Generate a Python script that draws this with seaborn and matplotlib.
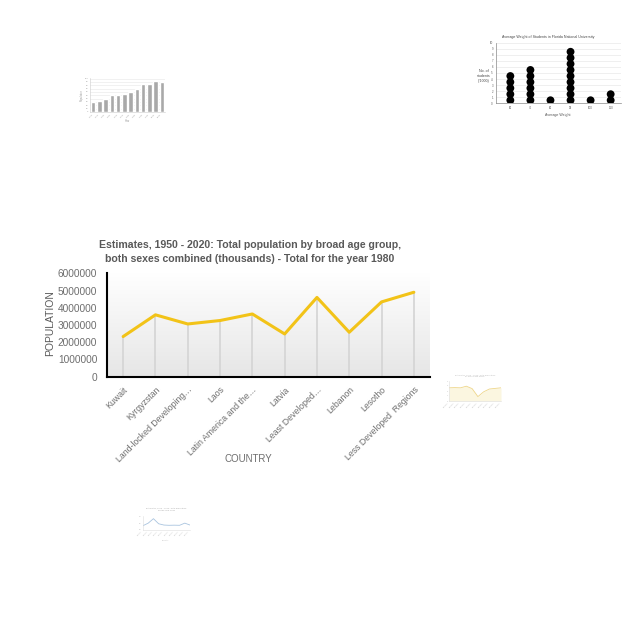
import numpy as np
import pandas as pd
import matplotlib
matplotlib.use("Agg")
import matplotlib.pyplot as plt
import seaborn as sns

# ---- main chart data ----
countries = ["Kuwait", "Kyrgyzstan", "Land-locked Developing…", "Laos",
             "Latin America and the…", "Latvia", "Least Developed…",
             "Lebanon", "Lesotho", "Less Developed  Regions"]
population = [2330000, 3590000, 3060000, 3260000, 3640000, 2480000,
              4600000, 2580000, 4340000, 4900000]
y_ticks = [0, 1000000, 2000000, 3000000, 4000000, 5000000, 6000000]

# ---- thumbnail data ----
bar_vals = [30, 34, 40, 50, 52, 55, 59, 70, 83, 84, 92, 90]
bar_labels = [f"{1950 + 5 * i}" for i in range(12)]
dot_cats = ["60", "70", "80", "90", "100", "110"]
dot_counts = [5, 6, 1, 9, 1, 2]
yellow_vals = [0.66, 0.67, 0.66, 0.74, 0.62, 0.22, 0.46, 0.6, 0.63, 0.66]
blue_vals = [0.3, 0.5, 0.85, 0.45, 0.35, 0.33, 0.34, 0.33, 0.5, 0.35]

sns.set_theme(style="white")
plt.rcParams["font.family"] = ["Liberation Sans", "DejaVu Sans"]

W = H = 640
fig = plt.figure(figsize=(6.4, 6.4), dpi=100)
fig.patch.set_facecolor("white")

def px_axes(x0, y0, x1, y1):
    return fig.add_axes([x0 / W, 1 - y1 / H, (x1 - x0) / W, (y1 - y0) / H])

grey = "#595959"
tick_grey = "#6e6e6e"

# ================= main chart =================
ax = px_axes(107, 273.3, 430, 376.7)
df = pd.DataFrame({"country": countries, "population": population})
xs = np.arange(len(countries))
grad = np.linspace(1, 0, 256).reshape(-1, 1)
ax.imshow(grad, extent=[-0.5, len(countries) - 0.5, 0, 6000000], aspect="auto",
          cmap=matplotlib.colors.LinearSegmentedColormap.from_list("g", ["#ffffff", "#e6e6e6"]),
          vmin=0, vmax=1, zorder=0, origin="lower")
ax.vlines(xs, 0, df["population"], color="#d6d6d6", lw=1.3, zorder=1)
sns.lineplot(data=df, x="country", y="population", ax=ax, color="#f2c318",
             lw=2.2, sort=False, zorder=3)
ax.set_xlim(-0.5, len(countries) - 0.5)
ax.set_ylim(0, 6000000)
ax.set_yticks(y_ticks)
ax.set_yticklabels([str(v) for v in y_ticks], color=tick_grey, fontsize=7.3)
ax.set_xticks(xs)
ax.set_xticklabels(countries, rotation=45, ha="right", rotation_mode="anchor",
                   color=tick_grey, fontsize=6.3)
ax.tick_params(axis="y", length=0, pad=7)
ax.tick_params(axis="x", length=0, pad=6)
for s in ["top", "right"]:
    ax.spines[s].set_visible(False)
for s in ["left", "bottom"]:
    ax.spines[s].set_color("black")
    ax.spines[s].set_linewidth(1.5)
ax.set_xlabel("")
ax.set_ylabel("")
ax.grid(False)
fig.text(248 / W, 1 - 459 / H, "COUNTRY", ha="center", va="center", color=tick_grey, fontsize=7)
fig.text(50 / W, 1 - 323 / H, "POPULATION", ha="center", va="center", rotation=90,
         color=grey, fontsize=7.5)
fig.text(250 / W, 1 - 245.5 / H,
         "Estimates, 1950 - 2020: Total population by broad age group,",
         ha="center", va="center", color=grey, fontsize=7.6, fontweight="bold")
fig.text(250 / W, 1 - 259 / H,
         "both sexes combined (thousands) - Total for the year 1980",
         ha="center", va="center", color=grey, fontsize=7.6, fontweight="bold")

# ================= thumbnail: bar chart =================
axb = px_axes(90, 78, 165, 112)
bdf = pd.DataFrame({"year": bar_labels, "val": bar_vals})
sns.barplot(data=bdf, x="year", y="val", ax=axb, color="#a9a9a9", width=0.7, zorder=2)
axb.set_ylim(0, 102)
axb.set_yticks(np.arange(0, 101, 10))
axb.yaxis.grid(True, color="#e6e6e6", lw=0.4)
axb.tick_params(length=0, labelsize=1.6, colors="#999999", pad=1)
axb.set_xticks(range(len(bar_labels)))
axb.set_xticklabels(bar_labels, rotation=45, ha="right")
axb.set_xlabel("Year", fontsize=1.8, color="#999999", labelpad=1)
axb.set_ylabel("Population", fontsize=1.8, color="#999999", labelpad=1)
for s in axb.spines.values():
    s.set_color("#cccccc"); s.set_linewidth(0.4)
axb.spines["top"].set_visible(False); axb.spines["right"].set_visible(False)

# ================= thumbnail: dot plot =================
axd = px_axes(495.7, 42.7, 620.7, 103.3)
rows = [(i, k + 0.5) for i, c in enumerate(dot_counts) for k in range(c)]
ddf = pd.DataFrame(rows, columns=["cat", "n"])
sns.scatterplot(data=ddf, x="cat", y="n", ax=axd, color="black", s=32, edgecolor="none", zorder=3)
axd.set_xlim(-0.73, 5.5)
axd.set_ylim(0, 10)
axd.set_yticks(range(11))
axd.yaxis.grid(True, color="#e3e3e3", lw=0.4)
axd.set_xticks(range(len(dot_cats)))
axd.set_xticklabels(dot_cats)
axd.tick_params(length=0, labelsize=2, colors="#555555", pad=2)
axd.set_xlabel("Average Weight", fontsize=2.6, color="#555555", labelpad=2)
axd.set_ylabel("")
for s in ["top", "right"]:
    axd.spines[s].set_visible(False)
for s in ["left", "bottom"]:
    axd.spines[s].set_color("#888888"); axd.spines[s].set_linewidth(0.5)
fig.text(548 / W, 1 - 37 / H, "Average Weight of Students in Florida National University",
         ha="center", va="center", fontsize=2.6, color="#444444")
fig.text(484 / W, 1 - 76 / H, "No. of\nstudents\n(*1000)", ha="center", va="center",
         fontsize=2.6, color="#444444", linespacing=1.2)

# ================= thumbnail: yellow line =================
axy = px_axes(449, 381, 501, 401)
ydf = pd.DataFrame({"i": range(len(yellow_vals)), "v": yellow_vals})
axy.fill_between(ydf["i"], 0, ydf["v"], color="#fbf6e0", lw=0)
sns.lineplot(data=ydf, x="i", y="v", ax=axy, color="#eed68a", lw=0.6)
axy.set_xlim(0, len(yellow_vals) - 1); axy.set_ylim(0, 1)
axy.set_xticks(range(len(yellow_vals)))
axy.set_xticklabels(["Country"] * len(yellow_vals), rotation=45, ha="right")
axy.set_yticks([0, 0.25, 0.5, 0.75, 1])
axy.set_yticklabels(["0", "1", "2", "3", "4"])
axy.tick_params(length=0, labelsize=1.5, colors="#bbbbbb", pad=1)
axy.set_xlabel(""); axy.set_ylabel("")
for s in axy.spines.values():
    s.set_color("#dddddd"); s.set_linewidth(0.4)
axy.spines["top"].set_visible(False); axy.spines["right"].set_visible(False)
fig.text(475 / W, 1 - 376 / H, "Estimates, 1950 - 2020: Total population\nby broad age group",
         ha="center", va="center", fontsize=1.6, color="#bbbbbb", linespacing=1.3)

# ================= thumbnail: blue line =================
axl = px_axes(143, 515.5, 190, 529.5)
ldf = pd.DataFrame({"i": range(len(blue_vals)), "v": blue_vals})
sns.lineplot(data=ldf, x="i", y="v", ax=axl, color="#a9c4df", lw=0.6)
axl.set_xlim(0, len(blue_vals) - 1); axl.set_ylim(0, 1.1)
axl.set_xticks(range(len(blue_vals)))
axl.set_xticklabels(["Country"] * len(blue_vals), rotation=45, ha="right")
axl.set_yticks([0, 0.5, 1])
axl.tick_params(length=0, labelsize=1.4, colors="#bbbbbb", pad=1)
axl.set_xlabel(""); axl.set_ylabel("")
for s in axl.spines.values():
    s.set_color("#dddddd"); s.set_linewidth(0.4)
axl.spines["top"].set_visible(False); axl.spines["right"].set_visible(False)
fig.text(166 / W, 1 - 509 / H, "Estimates, 1950 - 2020: Total population\nfor the year 1980",
         ha="center", va="center", fontsize=1.6, color="#aaaaaa", linespacing=1.3)
fig.text(166 / W, 1 - 540 / H, "Country", ha="center", va="center", fontsize=1.5, color="#bbbbbb")

fig.savefig("out.png", dpi=100, facecolor="white")
